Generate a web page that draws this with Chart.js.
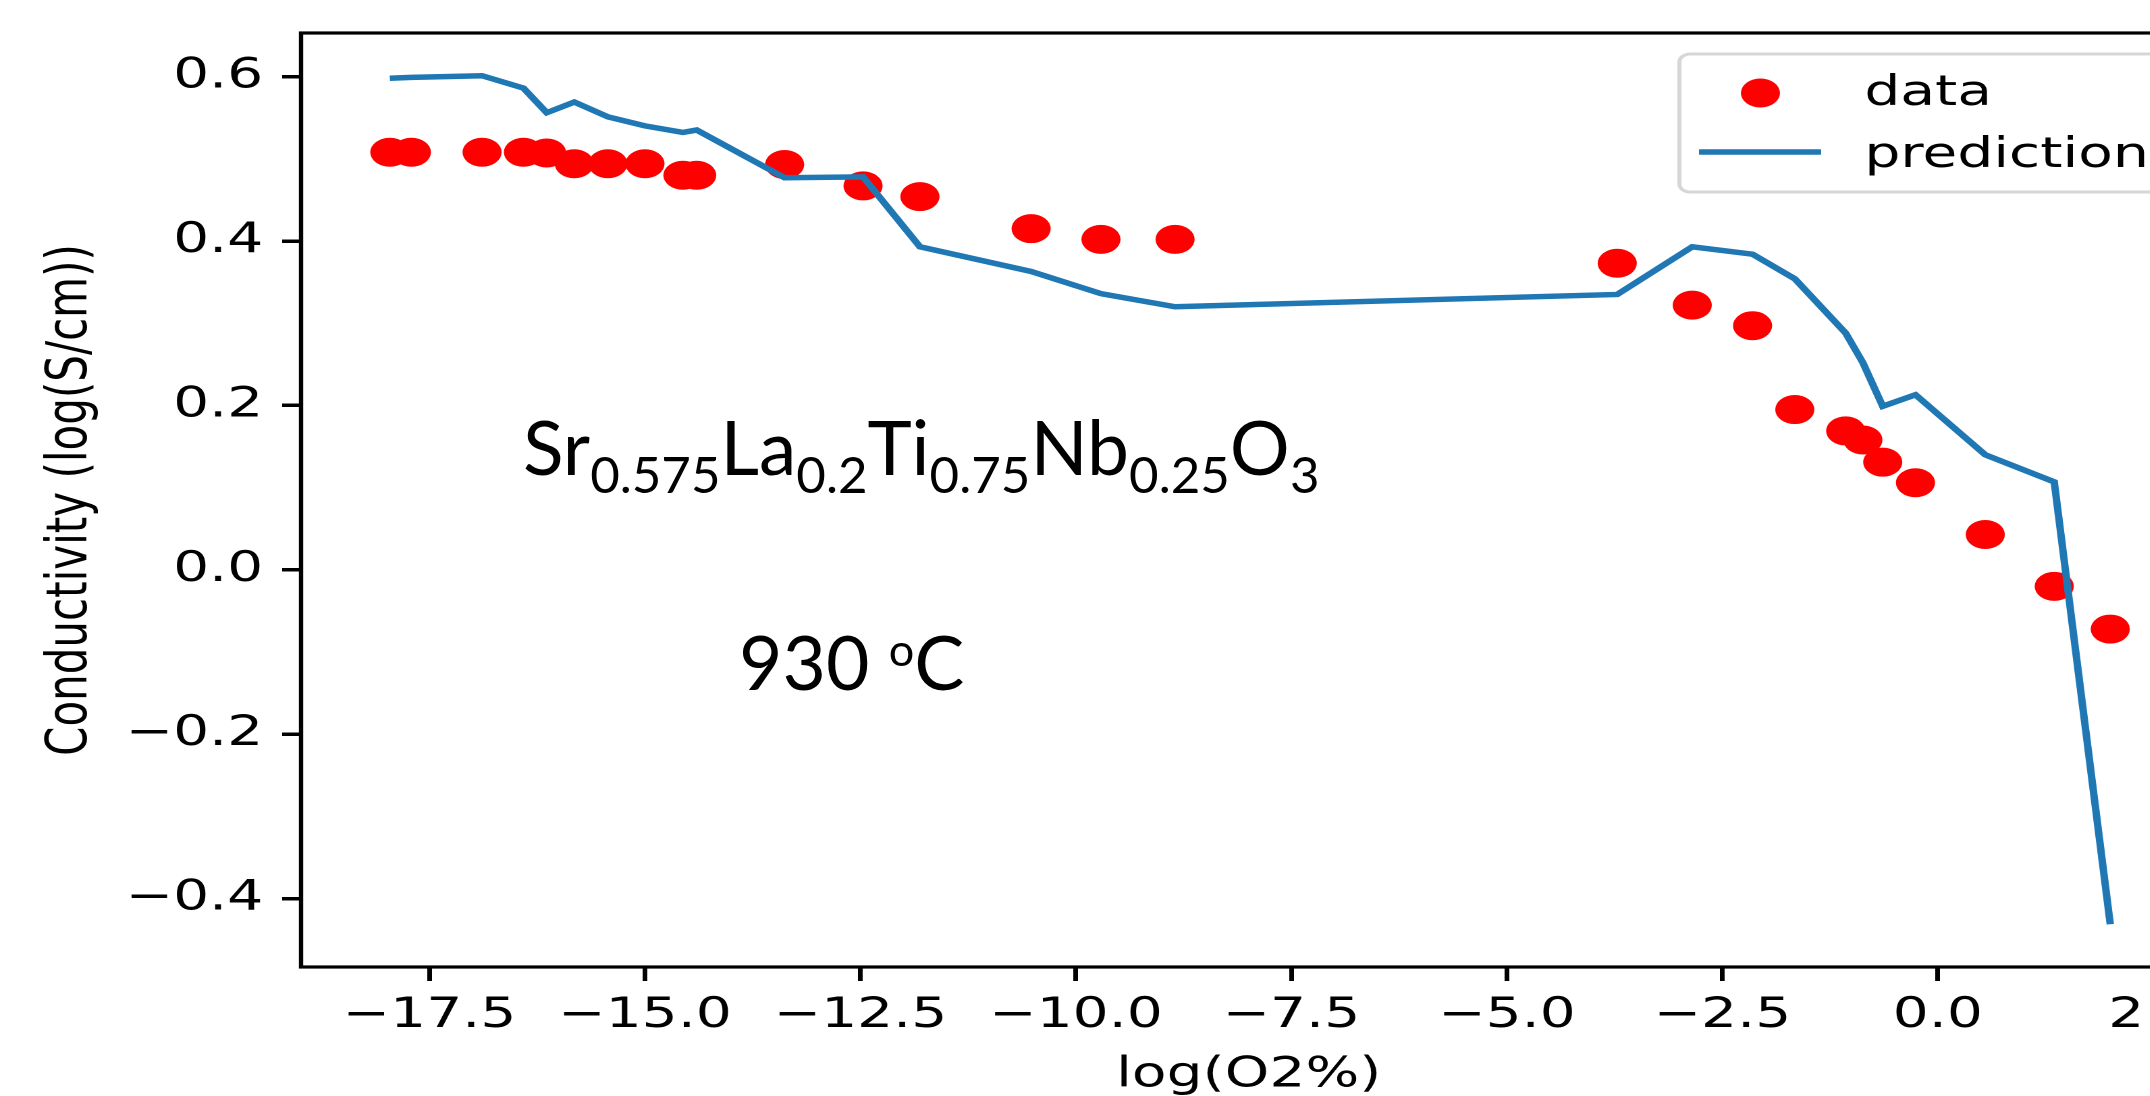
<!DOCTYPE html>
<html>
<head>
<meta charset="utf-8">
<script src="https://cdn.jsdelivr.net/npm/chart.js@4.4.0/dist/chart.umd.min.js"></script>
<style>
  html, body { margin: 0; padding: 0; background: #fff; width: 2150px; height: 1096px; overflow: hidden; }
  /* the original figure was stretched sideways, so the whole chart is too */
  #stretch { position: absolute; left: 0; top: 0; width: 1660px; height: 1110px; transform: scaleX(1.35); transform-origin: 0 0; }
  .note { position: absolute; font-family: Lato, sans-serif; color: #000; white-space: nowrap; line-height: 1.2; font-size: 75px; }
  .note .sb { font-size: 0.68em; vertical-align: -18px; }
  .note .sp { font-size: 0.6em; vertical-align: 24px; }
</style>
</head>
<body>
<div id="stretch"><canvas id="conductivityChart"></canvas></div>
<div class="note" style="left:523px; top:401px;">Sr<span class="sb">0.575</span>La<span class="sb">0.2</span>Ti<span class="sb">0.75</span>Nb<span class="sb">0.25</span>O<span class="sb">3</span></div>
<div class="note" style="left:739px; top:616px;">930 <span class="sp">o</span>C</div>
<script>
// log(O2%) values, shared by measurement and prediction
const logO2 = [-17.96, -17.71, -16.89, -16.41, -16.14, -15.82, -15.43, -15.0, -14.56, -14.40,
               -13.38, -12.47, -11.81, -10.52, -9.71, -8.85, -3.72, -2.85, -2.15, -1.66,
               -1.07, -0.87, -0.64, -0.26, 0.55, 1.35, 2.0];
// measured conductivity (red dots)
const measured = [0.508, 0.508, 0.508, 0.508, 0.507, 0.494, 0.494, 0.494, 0.480, 0.480,
                  0.493, 0.467, 0.454, 0.415, 0.402, 0.402, 0.373, 0.322, 0.297, 0.195,
                  0.169, 0.158, 0.131, 0.106, 0.043, -0.020, -0.072];
// model prediction (blue line)
const predicted = [0.598, 0.599, 0.601, 0.586, 0.556, 0.569, 0.551, 0.540, 0.532, 0.535,
                   0.477, 0.478, 0.393, 0.363, 0.336, 0.320, 0.335, 0.393, 0.384, 0.354,
                   0.288, 0.252, 0.199, 0.213, 0.140, 0.107, -0.431];
const xTicks = [-17.5, -15, -12.5, -10, -7.5, -5, -2.5, 0, 2.5];
const yTicks = [-0.4, -0.2, 0, 0.2, 0.4, 0.6];

const fmt = v => v.toFixed(1).replace('-', '\u2212');
const axisFont = { family: 'DejaVu Sans', size: 42 };

// plot frame (matplotlib spines)
const framePlugin = {
    id: 'frame',
    afterDatasetsDraw(chart) {
        const { ctx, chartArea: a } = chart;
        ctx.save();
        ctx.strokeStyle = '#000';
        ctx.lineWidth = 3.2;
        ctx.strokeRect(a.left, a.top, a.right - a.left, a.bottom - a.top);
        ctx.restore();
    }
};

// legend box in the upper right corner
const legendPlugin = {
    id: 'boxLegend',
    afterDraw(chart) {
        const { ctx, chartArea: a } = chart;
        const right = a.right - 21, top = a.top + 21;
        const left = right - 362, bottom = top + 138;
        const line = chart.data.datasets[0], dots = chart.data.datasets[1];
        ctx.save();
        ctx.beginPath();
        ctx.roundRect(left, top, right - left, bottom - top, 8);
        ctx.fillStyle = 'rgba(255,255,255,0.8)';
        ctx.fill();
        ctx.strokeStyle = '#d6d6d6';
        ctx.lineWidth = 3;
        ctx.stroke();

        ctx.beginPath();
        ctx.arc(left + 60, top + 39, dots.pointRadius, 0, Math.PI * 2);
        ctx.fillStyle = dots.backgroundColor;
        ctx.fill();

        ctx.beginPath();
        ctx.moveTo(left + 14.5, top + 98);
        ctx.lineTo(left + 105, top + 98);
        ctx.strokeStyle = line.borderColor;
        ctx.lineWidth = line.borderWidth;
        ctx.stroke();

        ctx.fillStyle = '#000';
        ctx.font = axisFont.size + 'px "' + axisFont.family + '"';
        ctx.textBaseline = 'alphabetic';
        ctx.textAlign = 'left';
        ctx.fillText(dots.label, left + 137, top + 51);
        ctx.fillText(line.label, left + 137, top + 113);
        ctx.restore();
    }
};

const tickGrid = { drawOnChartArea: false, drawTicks: true, tickLength: 14, color: '#000', lineWidth: 3.5 };

// fixed axis sizes, and no extra room asked for by the edge labels
function fixX(s) { s.height = 143; s.paddingLeft = 0; s.paddingRight = 0; }
function fixY(s) { s.width = 223; s.paddingTop = 0; s.paddingBottom = 0; }

new Chart(document.getElementById('conductivityChart'), {
    type: 'scatter',
    data: {
        datasets: [
            {
                label: 'prediction',
                type: 'line',
                data: logO2.map((x, i) => ({ x, y: predicted[i] })),
                borderColor: '#1f77b4',
                borderWidth: 5.5,
                pointRadius: 0,
                fill: false,
                tension: 0,
                order: 0
            },
            {
                label: 'data',
                data: logO2.map((x, i) => ({ x, y: measured[i] })),
                backgroundColor: '#ff0000',
                borderWidth: 0,
                pointRadius: 14.5,
                order: 1
            }
        ]
    },
    options: {
        responsive: true,
        maintainAspectRatio: false,
        animation: false,
        devicePixelRatio: 2,
        layout: { padding: { left: 0, top: 33, right: 33, bottom: 0 } },
        plugins: { legend: { display: false }, tooltip: { enabled: false } },
        scales: {
            x: {
                type: 'linear',
                min: -18.99,
                max: 3.0,
                afterBuildTicks: s => { s.ticks = xTicks.map(v => ({ value: v })); },
                afterFit: fixX,
                grid: tickGrid,
                border: { display: false },
                ticks: { font: axisFont, color: '#000', padding: 10, maxRotation: 0, autoSkip: false, callback: v => fmt(v) },
                title: { display: true, text: 'log(O2%)', font: axisFont, color: '#000', padding: { top: 0, bottom: 9 } }
            },
            y: {
                type: 'linear',
                min: -0.483,
                max: 0.653,
                afterBuildTicks: s => { s.ticks = yTicks.map(v => ({ value: v })); },
                afterFit: fixY,
                grid: tickGrid,
                border: { display: false },
                ticks: { font: axisFont, color: '#000', padding: 14, autoSkip: false, callback: v => fmt(v) },
                title: { display: true, text: 'Conductivity (log(S/cm))', font: axisFont, color: '#000', padding: { top: 28, bottom: 0 } }
            }
        }
    },
    plugins: [framePlugin, legendPlugin]
});
</script>
</body>
</html>
